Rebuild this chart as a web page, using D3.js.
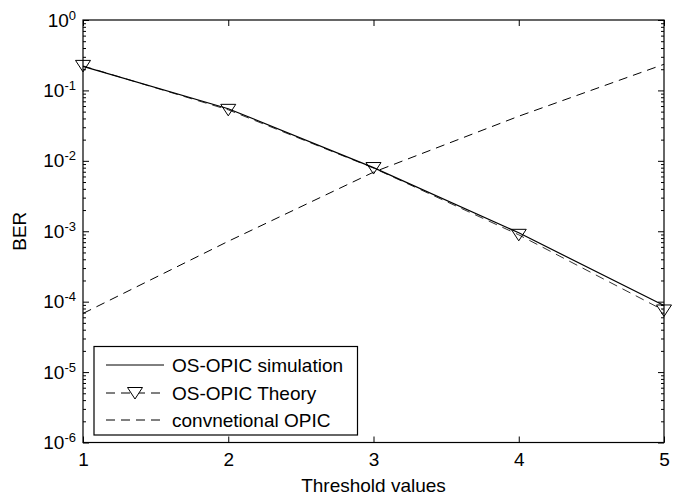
<!DOCTYPE html>
<html>
<head>
<meta charset="utf-8">
<script src="https://cdn.jsdelivr.net/npm/d3@7"></script>
<style>
  body { margin: 0; background: #fff; }
  svg { font-family: "Liberation Sans", Arial, sans-serif; }
</style>
</head>
<body>
<div id="chart"></div>
<script>
// values
const thresholds = [1, 2, 3, 4, 5];
const simulation = [0.22, 0.055, 0.0080, 0.00095, 0.000088];
const theory = [0.223, 0.053, 0.0079, 0.00089, 0.000075];
const conventional = [0.000068, 0.00072, 0.0069, 0.043, 0.235];
const xTicks = [1, 2, 3, 4, 5];
const yExponents = [0, -1, -2, -3, -4, -5, -6];
const legendLabels = ["OS-OPIC simulation", "OS-OPIC Theory", "convnetional OPIC"];

const width = 684, height = 500;
const margin = { left: 83, right: 20, top: 20, bottom: 57.5 };

const svg = d3.select("#chart").append("svg")
    .attr("width", width)
    .attr("height", height);

const x = d3.scaleLinear().domain([1, 5]).range([margin.left, width - margin.right]);
const y = d3.scaleLog().domain([1e-6, 1]).range([height - margin.bottom, margin.top]);

const majors = yExponents.map(e => Math.pow(10, e));
// minor ticks 2..9 for every decade
const minors = [];
for (let e = -6; e < 0; e++) {
    for (let k = 2; k <= 9; k++) minors.push(k * Math.pow(10, e));
}

const x0 = x.range()[0], x1 = x.range()[1];
const y0 = y.range()[0], y1 = y.range()[1];

// axes (ticks pointing inward)
const bottom = svg.append("g")
    .attr("transform", `translate(0,${y0})`)
    .call(d3.axisBottom(x).tickValues(xTicks).tickSize(-6).tickPadding(10).tickFormat(d3.format("d")));
svg.append("g")
    .attr("transform", `translate(0,${y1})`)
    .call(d3.axisTop(x).tickValues(xTicks).tickSize(-6).tickFormat(""));

const left = svg.append("g")
    .attr("transform", `translate(${x0},0)`)
    .call(d3.axisLeft(y).tickValues(majors).tickSize(-6).tickPadding(8).tickFormat(""));
svg.append("g")
    .attr("transform", `translate(${x0},0)`)
    .call(d3.axisLeft(y).tickValues(minors).tickSize(-3).tickFormat(""));
svg.append("g")
    .attr("transform", `translate(${x1},0)`)
    .call(d3.axisRight(y).tickValues(majors).tickSize(-6).tickFormat(""));
svg.append("g")
    .attr("transform", `translate(${x1},0)`)
    .call(d3.axisRight(y).tickValues(minors).tickSize(-3).tickFormat(""));

svg.selectAll(".domain").remove();
svg.selectAll(".tick line").attr("stroke", "#000").attr("stroke-width", 1);

// y labels as 10 with superscript exponent
left.selectAll(".tick text").each(function(d) {
    const t = d3.select(this);
    t.text(null).attr("font-size", 19).attr("fill", "#000");
    t.append("tspan").text("10");
    t.append("tspan").attr("font-size", 13).attr("dy", -7).text(Math.round(Math.log10(d)));
});
// shift so the superscript end sits at the label edge
left.selectAll(".tick text").attr("x", -7).attr("text-anchor", "end");

bottom.selectAll(".tick text").attr("font-size", 19).attr("fill", "#000");

// box
svg.append("rect")
    .attr("x", x0).attr("y", y1)
    .attr("width", x1 - x0).attr("height", y0 - y1)
    .attr("fill", "none").attr("stroke", "#000").attr("stroke-width", 1.2);

// lines
const line = d3.line().x(d => x(d[0])).y(d => y(d[1]));
const plot = svg.append("g");

plot.append("path")
    .datum(d3.zip(thresholds, conventional))
    .attr("d", line)
    .attr("fill", "none").attr("stroke", "#000").attr("stroke-width", 1)
    .attr("stroke-dasharray", "9,6");

plot.append("path")
    .datum(d3.zip(thresholds, theory))
    .attr("d", line)
    .attr("fill", "none").attr("stroke", "#333").attr("stroke-width", 1)
    .attr("stroke-dasharray", "9,6");

plot.append("path")
    .datum(d3.zip(thresholds, simulation))
    .attr("d", line)
    .attr("fill", "none").attr("stroke", "#000").attr("stroke-width", 1.2);

const tri = "M-7.5,-5.5L7.5,-5.5L0,6Z";
plot.selectAll(".marker")
    .data(d3.zip(thresholds, theory))
    .join("path")
    .attr("class", "marker")
    .attr("transform", d => `translate(${x(d[0])},${y(d[1])})`)
    .attr("d", tri)
    .attr("fill", "none").attr("stroke", "#000").attr("stroke-width", 1);

// axis titles
svg.append("text")
    .attr("x", (x0 + x1) / 2).attr("y", 492)
    .attr("text-anchor", "middle").attr("font-size", 19)
    .text("Threshold values");
svg.append("text")
    .attr("transform", `translate(26,${(y0 + y1) / 2}) rotate(-90)`)
    .attr("text-anchor", "middle").attr("font-size", 19)
    .text("BER");

// legend
const lg = svg.append("g").attr("transform", "translate(94,346.5)");
lg.append("rect")
    .attr("width", 263.5).attr("height", 88.5)
    .attr("fill", "#fff").attr("stroke", "#000").attr("stroke-width", 1.2);

const rowY = [18.5, 46.5, 73.5];
const styles = [
    { dash: null, marker: false },
    { dash: "9,6", marker: true },
    { dash: "9,6", marker: false }
];
legendLabels.forEach((label, i) => {
    const g = lg.append("g").attr("transform", `translate(0,${rowY[i]})`);
    g.append("line")
        .attr("x1", 12).attr("x2", 70)
        .attr("stroke", "#000").attr("stroke-width", 1)
        .attr("stroke-dasharray", styles[i].dash);
    if (styles[i].marker) {
        g.append("path").attr("d", tri).attr("transform", "translate(41,0)")
            .attr("fill", "#fff").attr("stroke", "#000");
    }
    g.append("text")
        .attr("x", 78).attr("dy", "0.35em")
        .attr("font-size", 19)
        .text(label);
});
</script>
</body>
</html>
